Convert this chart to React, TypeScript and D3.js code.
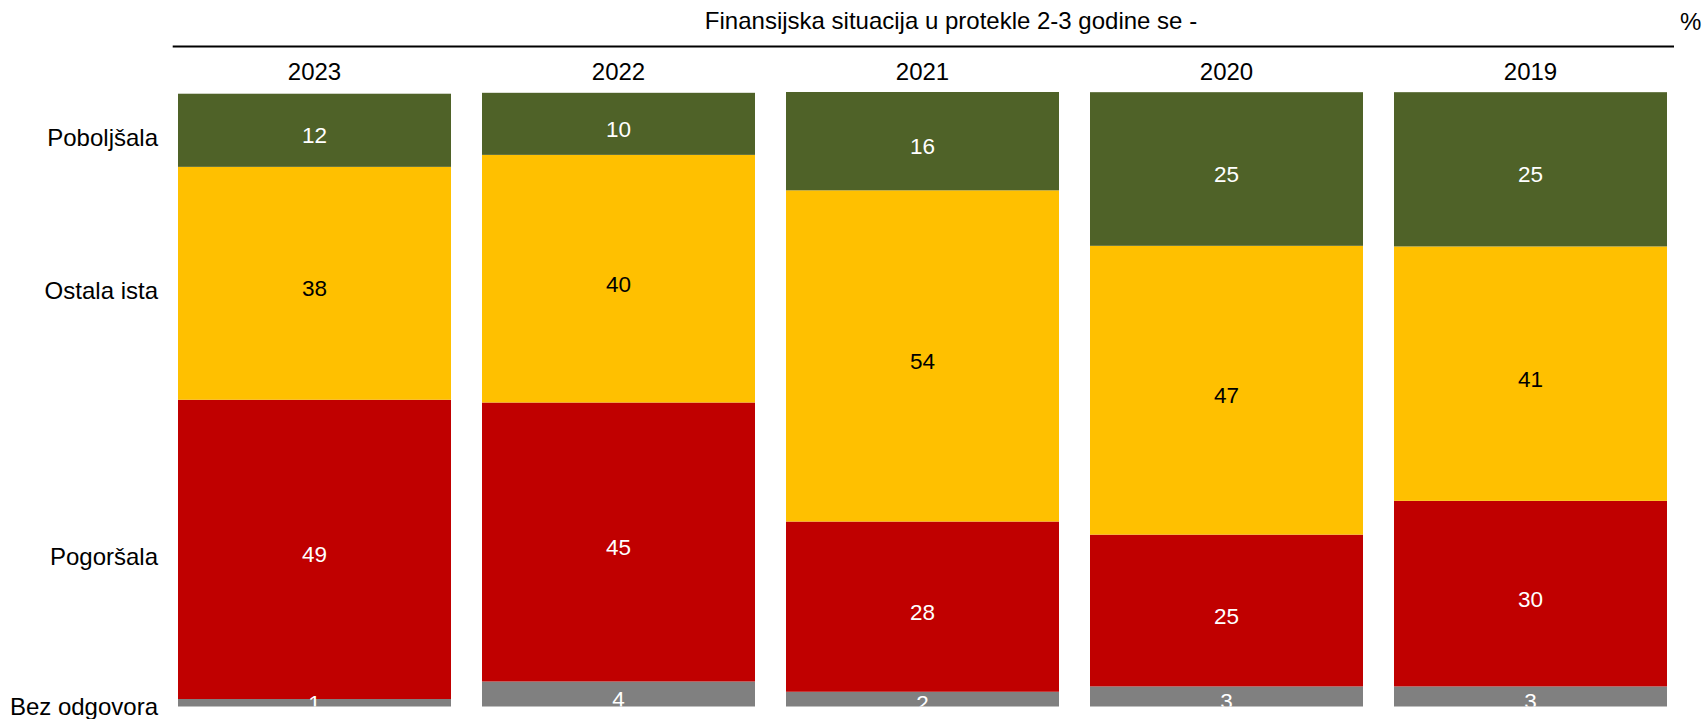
import React from "react";
import * as d3 from "d3";

const years = ["2023", "2022", "2021", "2020", "2019"];
const seriesNames = ["Bez odgovora", "Pogoršala", "Ostala ista", "Poboljšala"];
const bezOdgovora = [1.22, 4.07, 2.4, 3.27, 3.27];
const pogorsala = [48.7, 45.4, 27.7, 24.7, 30.2];
const ostalaIsta = [37.9, 40.3, 53.9, 47.0, 41.4];
const poboljsala = [11.9, 10.1, 16.0, 25.0, 25.1];
const seriesColors = ["#808080", "#C00000", "#FFC000", "#4F6228"];
const labelColors = ["#ffffff", "#ffffff", "#000000", "#ffffff"];
const title = "Finansijska situacija u protekle 2-3 godine se -";
const unit = "%";

const W = 1703;
const H = 719;
const FONT = "'Liberation Sans', Arial, sans-serif";

export default function App() {
  const rows = years.map((y, i) => ({
    year: y,
    [seriesNames[0]]: bezOdgovora[i],
    [seriesNames[1]]: pogorsala[i],
    [seriesNames[2]]: ostalaIsta[i],
    [seriesNames[3]]: poboljsala[i],
  }));
  const stack = d3.stack<any>().keys(seriesNames);
  const stacked = stack(rows);

  const x = d3.scaleBand().domain(years).range([178, 1667]).paddingInner(31 / 304).paddingOuter(0);
  const y = d3.scaleLinear().domain([0, 100]).range([706.5, 92]);

  return (
    <svg width={W} height={H} style={{ position: "absolute", left: 0, top: 0, display: "block" }} fontFamily={FONT}>
      <defs>
        <clipPath id="plotClip">
          <rect x={0} y={0} width={W} height={706.5} />
        </clipPath>
      </defs>
      <rect x={0} y={0} width={W} height={H} fill="#ffffff" />
      <text x={951} y={28.5} fontSize={24} textAnchor="middle" fill="#000">{title}</text>
      <text x={1680} y={30} fontSize={24} textAnchor="start" fill="#000">{unit}</text>
      <line x1={172.7} x2={1674} y1={46.5} y2={46.5} stroke="#000" strokeWidth={2.2} />
      {years.map((yr) => (
        <text key={yr} x={(x(yr) as number) + x.bandwidth() / 2} y={80} fontSize={24} textAnchor="middle" fill="#000">
          {yr}
        </text>
      ))}
      {stacked.map((s, si) => (
        <g key={s.key}>
          {s.map((d, i) => (
            <rect
              key={i}
              x={x(years[i]) as number}
              y={y(d[1])}
              width={x.bandwidth()}
              height={y(d[0]) - y(d[1])}
              fill={seriesColors[si]}
            />
          ))}
        </g>
      ))}
      <g clipPath="url(#plotClip)">
        {stacked.map((s, si) => (
          <g key={s.key}>
            {s.map((d, i) => (
              <text
                key={i}
                x={(x(years[i]) as number) + x.bandwidth() / 2}
                y={Math.min((y(d[0]) + y(d[1])) / 2 + 13, 710.5)}
                fontSize={22.5}
                textAnchor="middle"
                fill={labelColors[si]}
              >
                {Math.round(d[1] - d[0])}
              </text>
            ))}
          </g>
        ))}
      </g>
      {stacked.map((s) => {
        const d = s[0];
        const mid = (y(d[0]) + y(d[1])) / 2;
        return (
          <text key={s.key} x={158} y={Math.min(mid + 16, 715)} fontSize={24} textAnchor="end" fill="#000">
            {s.key}
          </text>
        );
      })}
    </svg>
  );
}
